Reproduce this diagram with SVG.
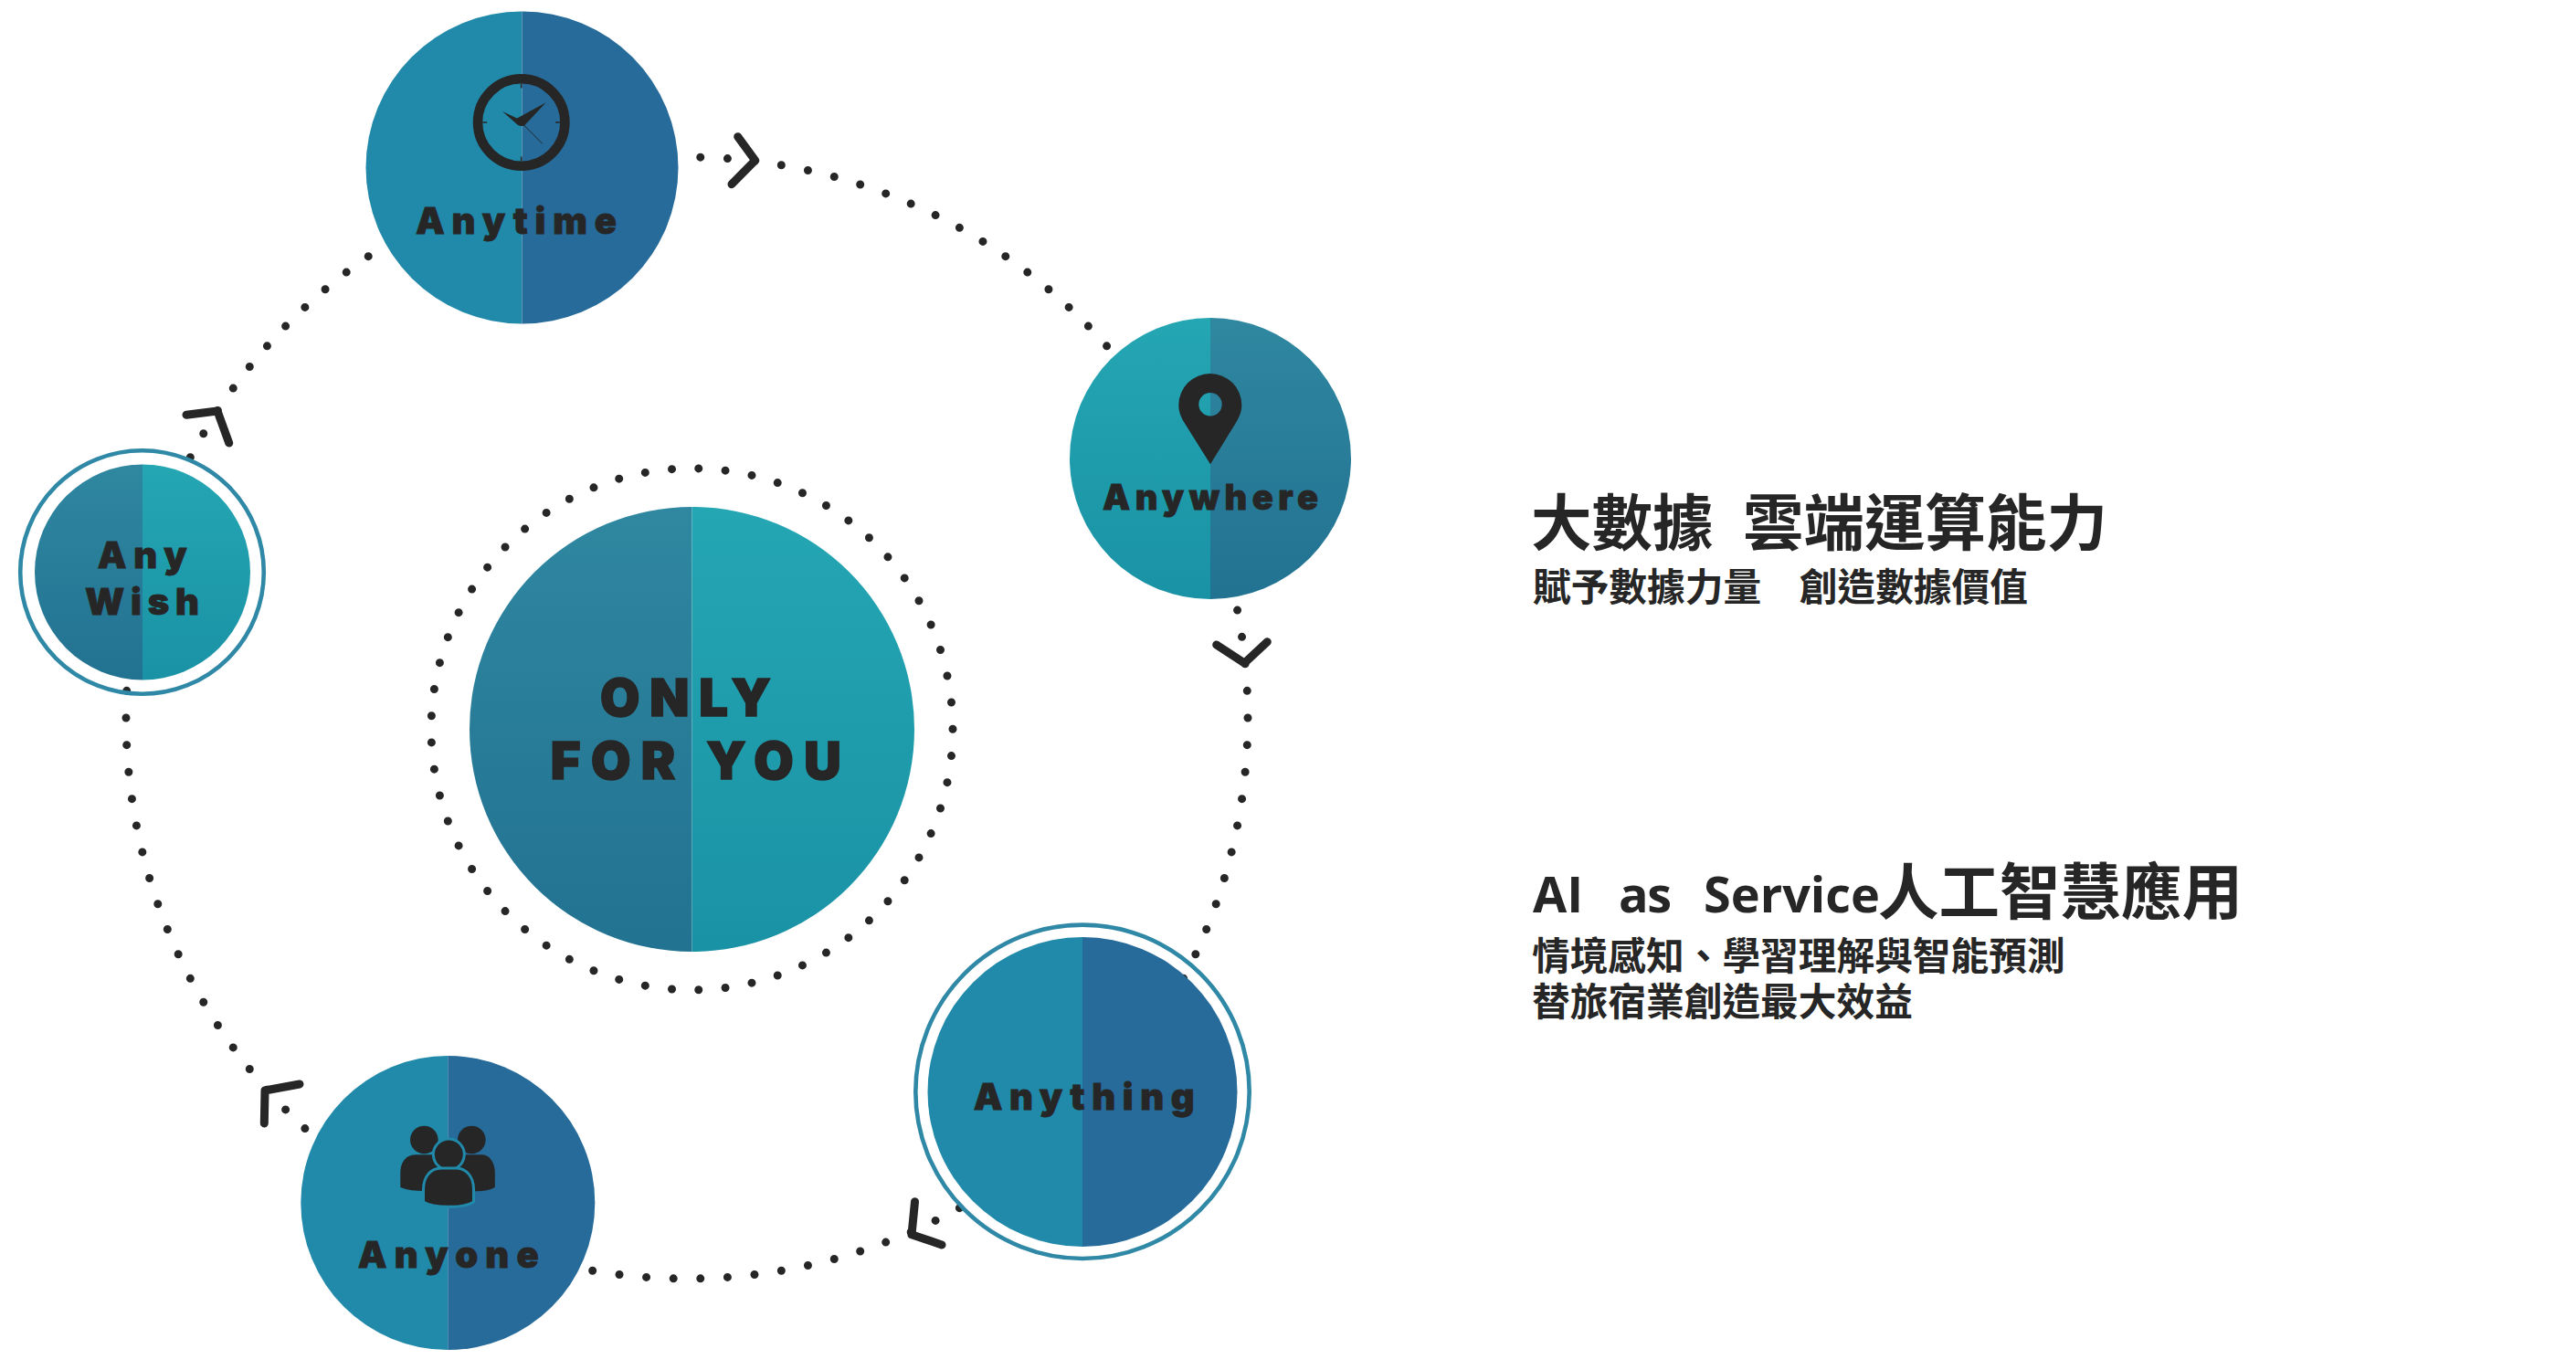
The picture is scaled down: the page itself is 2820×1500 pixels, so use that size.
<svg xmlns="http://www.w3.org/2000/svg" width="2820" height="1500" viewBox="0 0 2820 1500">
<style>
.dots{fill:none;stroke:#262626;stroke-width:9;stroke-linecap:round;stroke-dasharray:0 1}
.chev{fill:none;stroke:#262626;stroke-width:9;stroke-linecap:round;stroke-linejoin:round}
.ring{fill:none;stroke:#2f88a6;stroke-width:4.6}
.lab{font-family:Inter,"Liberation Sans",sans-serif;font-weight:900;fill:#262626;stroke:#262626;stroke-width:.8;font-size:40px}
.big{font-size:56px;font-weight:900;stroke-width:1.6}
.h{font-family:"Noto Sans CJK TC",sans-serif;font-weight:700;fill:#262626;font-size:66.500px}
.s{font-family:"Noto Sans CJK TC",sans-serif;font-weight:700;fill:#262626;font-size:41.700px}
.lat{font-family:"Open Sans",sans-serif;font-weight:700;fill:#262626;font-size:54px}
.ic{fill:#262626}
.fl{fill:#2189a9}.fd{fill:#266b9a}
.gl{fill:url(#gl)}.gd{fill:url(#gd)}
</style>
<defs>
<linearGradient id="gl" x1="0" y1="0" x2="0" y2="1"><stop offset="0" stop-color="#25a6b3"/><stop offset="1" stop-color="#1992a5"/></linearGradient>
<linearGradient id="gd" x1="0" y1="0" x2="0" y2="1"><stop offset="0" stop-color="#2f87a0"/><stop offset="1" stop-color="#227291"/></linearGradient>
</defs>
<rect width="2820" height="1500" fill="#fff"/>
<g id="connectors">
<circle class="dots" cx="752" cy="786" r="614" pathLength="130"/>
<path class="chev" d="M807.700 149.700L826.700 175.700L801 201.700"/>
<path class="chev" d="M1331.700 706L1362.300 726L1387.300 702.700"/>
<path class="chev" d="M1001.500 1315.700L998 1351.700L1031 1363"/>
<path class="chev" d="M328 1187L290 1194L289.300 1230"/>
<path class="chev" d="M204 454.300L238 450L250.700 485"/>
</g>
<g id="center">
<circle class="dots" cx="757.500" cy="798.300" r="285.500" pathLength="61"/>
<path class="gd" d="M757.500 555A243.500 243.500 0 0 0 757.500 1042Z"/>
<path class="gl" d="M757.500 555A243.500 243.500 0 0 1 757.500 1042Z"/>
<text class="lab big" x="657" y="784.300" textLength="187">ONLY</text>
<text class="lab big" x="602.700" y="852.800" textLength="318">FOR YOU</text>
</g>
<g id="anytime">
<path class="fl" d="M571.500 12.500A171 171 0 0 0 571.500 354.500Z"/>
<path class="fd" d="M571.500 12.500A171 171 0 0 1 571.500 354.500Z"/>
<circle cx="570.700" cy="134" r="47.700" fill="none" stroke="#262626" stroke-width="10.500"/>
<path d="M570.700 91.500v5M570.700 176.500v-5M528.200 134h5M613.200 134h-5" stroke="#262626" stroke-width="1.600"/>
<path d="M550 122L566 129.500L597.700 112.300L574 137.500L567 137Z" class="ic"/>
<circle class="ic" cx="570.700" cy="134" r="4"/>
<path d="M570.700 134L593.700 157.300" stroke="#262626" stroke-width="1"/>
<text class="lab" x="455" y="256" textLength="220">Anytime</text>
</g>
<g id="anywhere">
<path class="gl" d="M1325 348A154 154 0 0 0 1325 656Z"/>
<path class="gd" d="M1325 348A154 154 0 0 1 1325 656Z"/>
<path class="ic" fill-rule="evenodd" d="M1325 508.300L1296 462C1292 455 1290.300 450 1290.300 443.500A34.500 34.500 0 0 1 1359.300 443.500C1359.300 450 1357.500 455 1353.500 462ZM1325 430A12.700 12.700 0 1 0 1325 455.400A12.700 12.700 0 1 0 1325 430Z"/>
<text class="lab" x="1207" y="558" style="font-size:38px" textLength="236">Anywhere</text>
</g>
<g id="anything">
<circle class="ring" cx="1185" cy="1195.300" r="182.700"/>
<path class="fl" d="M1185 1026A169.500 169.500 0 0 0 1185 1365Z"/>
<path class="fd" d="M1185 1026A169.500 169.500 0 0 1 1185 1365Z"/>
<text class="lab" x="1065.700" y="1214.800" textLength="242">Anything</text>
</g>
<g id="anyone">
<path class="fl" d="M490.300 1156A161 161 0 0 0 490.300 1478Z"/>
<path class="fd" d="M490.300 1156A161 161 0 0 1 490.300 1478Z"/>
<circle class="ic" cx="464.300" cy="1248" r="15.300"/>
<circle class="ic" cx="516.300" cy="1248" r="15.300"/>
<path class="ic" d="M438.300 1300V1284C438.300 1272 445 1264.300 455 1264.300H528C535 1264.300 541.800 1272 541.800 1284V1300C535 1304 525 1305 515 1304H465C455 1304 446 1303 438.300 1300Z"/>
<circle class="ic" cx="491.300" cy="1264" r="17" stroke="#2189a9" stroke-width="3"/>
<path class="ic" stroke="#2189a9" stroke-width="3" d="M463.500 1316V1302C463.500 1289 471 1279 483 1279H499C511 1279 518.500 1289 518.500 1302V1316C508 1323 474 1323 463.500 1316Z"/>
<text class="lab" x="391.800" y="1388" textLength="198">Anyone</text>
</g>
<g id="anywish">
<circle class="ring" cx="155.500" cy="626.500" r="133.300"/>
<path class="gd" d="M156 508.500A118 118 0 0 0 156 744.500Z"/>
<path class="gl" d="M156 508.500A118 118 0 0 1 156 744.500Z"/>
<text class="lab" x="106.700" y="621.700" textLength="98">Any</text>
<text class="lab" x="93" y="673.300" textLength="125">Wish</text>
</g>
<g id="text1">
<text class="h" x="1676" y="597">大數據</text>
<text class="h" x="1908" y="597">雲端運算能力</text>
<text class="s" x="1678" y="658">賦予數據力量　創造數據價值</text>
</g>
<g id="text2">
<text class="lat" x="1678" y="999">AI</text>
<text class="lat" x="1772" y="999" textLength="58">as</text>
<text class="lat" x="1865" y="999" textLength="193">Service</text>
<text class="h" x="2056" y="1001">人工智慧應用</text>
<text class="s" x="1677" y="1062">情境感知、學習理解與智能預測</text>
<text class="s" x="1677" y="1112">替旅宿業創造最大效益</text>
</g>
</svg>
